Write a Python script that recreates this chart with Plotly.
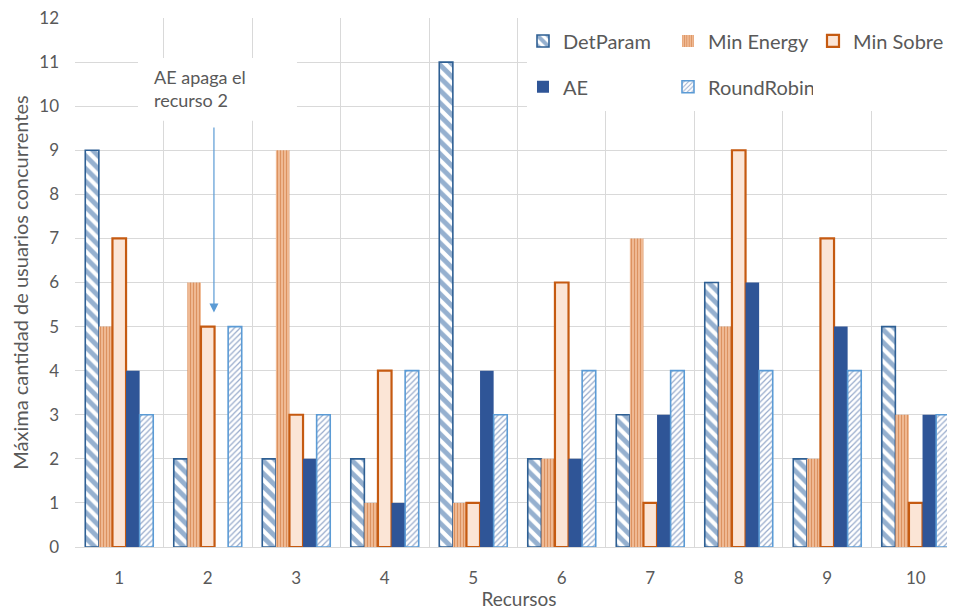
import plotly.graph_objects as go

recursos = [1, 2, 3, 4, 5, 6, 7, 8, 9, 10]
det_param = [9, 2, 2, 2, 11, 2, 3, 6, 2, 5]
min_energy = [5, 6, 9, 1, 1, 2, 7, 5, 2, 3]
min_sobre = [7, 5, 3, 4, 1, 6, 1, 9, 7, 1]
ae = [4, 0, 2, 1, 4, 2, 3, 6, 5, 3]
round_robin = [3, 5, 3, 4, 3, 4, 4, 4, 4, 3]

FONT = "Lato"
GRAY = "#595959"
GRID = "#D9D9D9"

fig = go.Figure()

fig.add_trace(go.Bar(
    name="DetParam", x=recursos, y=det_param, legend="legend",
    marker=dict(color="white", line=dict(color="#2E5F93", width=1.6),
                pattern=dict(shape="\\", fgcolor="#2C62A0", bgcolor="white", size=9, solidity=0.55)),
))
fig.add_trace(go.Bar(
    name="Min Energy", x=recursos, y=min_energy, legend="legend",
    marker=dict(color="#F4B183", line=dict(width=0),
                pattern=dict(shape="|", fgcolor="#C25E1C", bgcolor="#F6C6A4", size=3, solidity=0.5)),
))
fig.add_trace(go.Bar(
    name="Min Sobre", x=recursos, y=min_sobre, legend="legend",
    marker=dict(color="#FBE5D6", line=dict(color="#C55A11", width=2.2)),
))
fig.add_trace(go.Bar(
    name="AE", x=recursos, y=ae, legend="legend2",
    marker=dict(color="#2F5597", line=dict(width=0)),
))
fig.add_trace(go.Bar(
    name="RoundRobin", x=recursos, y=round_robin, legend="legend2",
    marker=dict(color="white", line=dict(color="#5B9BD5", width=1.6),
                pattern=dict(shape="/", fgcolor="#2F5597", bgcolor="white", size=4, solidity=0.3)),
))

# white boxes covering gridlines (legend area and annotation box)
fig.add_shape(type="rect", layer="between", xref="x", yref="y",
              x0=5.607, x1=10.6, y0=9.89, y1=12.1,
              fillcolor="white", line=dict(width=0))
fig.add_shape(type="rect", layer="between", xref="x", yref="y",
              x0=1.212, x1=3.008, y0=9.667, y1=11.09,
              fillcolor="white", line=dict(width=0))

fig.add_annotation(x=1.37, y=10.96, xref="x", yref="y", xanchor="left", yanchor="top",
                   text="AE apaga el<br>recurso 2", showarrow=False, align="left",
                   font=dict(family=FONT, size=18, color=GRAY))
fig.add_annotation(x=2.07, y=5.32, ax=2.07, ay=9.55, xref="x", yref="y", axref="x", ayref="y",
                   text="", showarrow=True, arrowhead=2, arrowsize=1.5, arrowwidth=1.2,
                   arrowcolor="#5B9BD5")

legend_common = dict(orientation="h", bgcolor="rgba(0,0,0,0)", font=dict(family=FONT, size=20, color=GRAY),
                     xanchor="left", yanchor="middle", itemwidth=30,
                     entrywidth=100, entrywidthmode="pixels", traceorder="normal")

fig.update_layout(
    width=955, height=613,
    margin=dict(l=67, r=0, t=10, b=74, autoexpand=False),
    paper_bgcolor="white", plot_bgcolor="white",
    barmode="group", bargap=0.232, bargroupgap=0,
    font=dict(family=FONT, color=GRAY),
    legend=dict(x=0.5045, y=0.9566, **legend_common),
    legend2=dict(x=0.5045, y=0.870, **legend_common),
    xaxis=dict(range=[0.5, 10.534], tickvals=recursos, ticktext=[str(r) for r in recursos],
               showgrid=False, zeroline=False, showline=True, linecolor=GRID, linewidth=1,
               ticks="", ticklabelstandoff=16, ticklabeloverflow="allow",
               tickfont=dict(family=FONT, size=17, color=GRAY),
               minor=dict(tickvals=[i + 0.5 for i in range(0, 11)], showgrid=True,
                          gridcolor=GRID, gridwidth=1, ticks=""),
               title=dict(text="Recursos", font=dict(family=FONT, size=19, color=GRAY), standoff=5)),
    yaxis=dict(range=[0, 12], dtick=1, showgrid=True, gridcolor=GRID, gridwidth=1,
               zeroline=False, showline=False, ticks="", ticklabelstandoff=15,
               ticklabeloverflow="allow",
               tickfont=dict(family=FONT, size=17, color=GRAY),
               title=dict(text="Máxima cantidad de usuarios concurrentes",
                          font=dict(family=FONT, size=20, color=GRAY), standoff=10)),
)

fig.write_html("out.html")
